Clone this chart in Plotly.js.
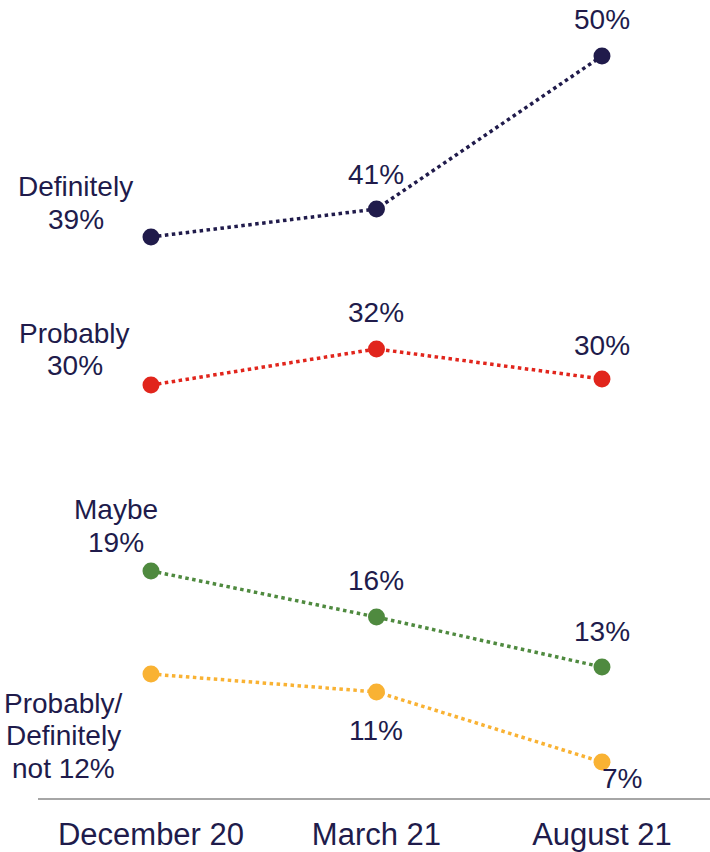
<!DOCTYPE html>
<html>
<head>
<meta charset="utf-8">
<script src="https://cdn.plot.ly/plotly-3.0.1.min.js"></script>
<style>html,body{margin:0;padding:0;background:#fff;} #chart{width:710px;height:852px;}</style>
</head>
<body>
<div id="chart"></div>
<script>
const categories = ["December 20", "March 21", "August 21"];
const seriesNames = ["Definitely<br>{v}", "Probably<br>{v}", "Maybe<br>{v}", "Probably/<br>Definitely<br>not {v}"];
const definitely = [38.98, 40.68, 50];
const probably = [29.96, 32.16, 30.33];
const maybe = [18.64, 15.83, 12.79];
const definitelyNot = [12.36, 11.27, 7];
const definitelyLabels = ["39%", "41%", "50%"];
const probablyLabels = ["30%", "32%", "30%"];
const maybeLabels = ["19%", "16%", "13%"];
const definitelyNotLabels = ["12%", "11%", "7%"];

const colors = ["#201b4b", "#e1251c", "#4f8a3f", "#f9b233"];
const textColor = "#201b4b";
const font = "Liberation Sans, Arial, sans-serif";

const values = [definitely, probably, maybe, definitelyNot];
const labels = [definitelyLabels, probablyLabels, maybeLabels, definitelyNotLabels];

const traces = values.map((v, i) => ({
  x: categories, y: v, type: "scatter", mode: "lines+markers",
  line: {color: colors[i], width: 3.5, dash: "dot"},
  marker: {color: colors[i], size: 17},
  hoverinfo: "skip", showlegend: false
}));

// label offsets (pixels) for value labels at points 1 and 2: [xshift, yshift]
const valueOffsets = [
  [null, [0, 35], [0, 36]],
  [null, [0, 36], [0, 33]],
  [null, [0, 37], [0, 35]],
  [null, [0, -39], [20, -16]]
];
// left name-label placement: [xshift from point 0, yshift of first line]
const nameOffsets = [[-75, 50], [-76, 52], [-35, 61], [-87, -29]];
const lineGap = 32.5;

const annotations = [];
values.forEach((v, i) => {
  for (let j = 1; j < 3; j++) {
    const off = valueOffsets[i][j];
    annotations.push({x: categories[j], y: v[j], xref: "x", yref: "y", text: labels[i][j],
      showarrow: false, xshift: off[0], yshift: off[1], xanchor: "center", yanchor: "middle",
      font: {family: font, size: 28, color: textColor}});
  }
  const lines = seriesNames[i].replace("{v}", labels[i][0]).split("<br>");
  lines.forEach((ln, k) => {
    annotations.push({x: categories[0], y: v[0], xref: "x", yref: "y", text: ln,
      showarrow: false, xshift: nameOffsets[i][0], yshift: nameOffsets[i][1] - k * lineGap,
      xanchor: "center", yanchor: "middle",
      font: {family: font, size: 28, color: textColor}});
  });
});

const layout = {
  width: 710, height: 852,
  margin: {l: 38, r: 0, t: 0, b: 54},
  paper_bgcolor: "#ffffff", plot_bgcolor: "#ffffff",
  xaxis: {type: "category", range: [-0.501, 2.479], showgrid: false, zeroline: false,
    showline: true, linecolor: "#a6a6a6", linewidth: 2, ticks: "", ticklabelstandoff: 8,
    tickfont: {family: font, size: 31, color: textColor}, fixedrange: true},
  yaxis: {range: [4.81, 53.41], showgrid: false, zeroline: false, showline: false,
    showticklabels: false, ticks: "", fixedrange: true},
  annotations: annotations
};

Plotly.newPlot("chart", traces, layout, {displayModeBar: false, staticPlot: true});
</script>
</body>
</html>
